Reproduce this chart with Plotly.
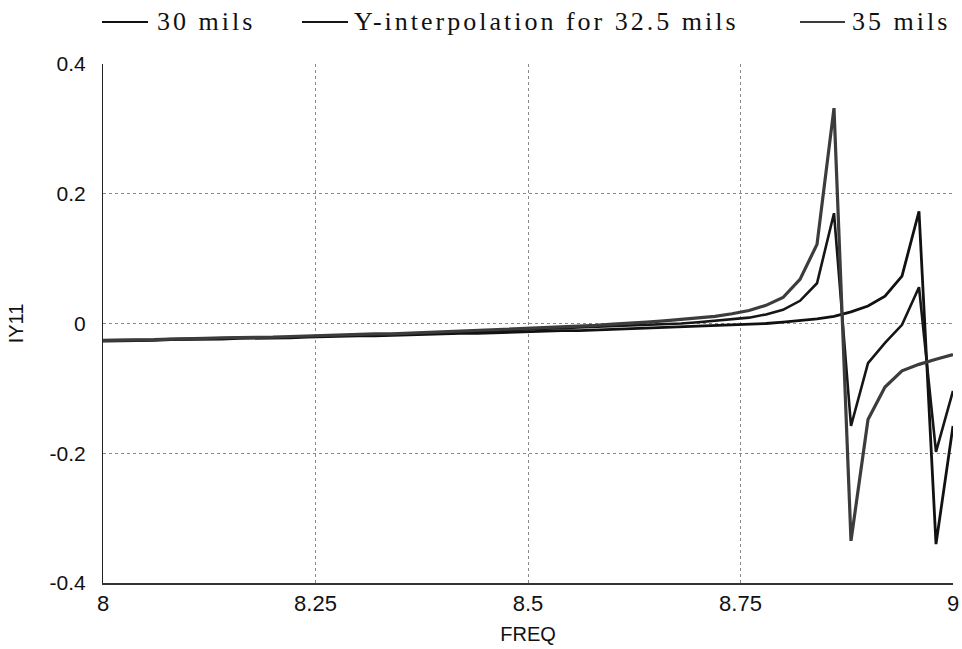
import plotly.graph_objects as go

# Frequency sweep (GHz), 0.02 GHz step
freq = [round(8.0 + 0.02 * i, 2) for i in range(51)]

iy11_30 = [
    -0.027, -0.027, -0.026, -0.026, -0.025, -0.025, -0.024, -0.024, -0.023, -0.023,
    -0.022, -0.022, -0.021, -0.020, -0.020, -0.019, -0.019, -0.018, -0.017, -0.017,
    -0.016, -0.015, -0.015, -0.014, -0.013, -0.013, -0.012, -0.011, -0.011, -0.010,
    -0.009, -0.008, -0.008, -0.007, -0.006, -0.005, -0.004, -0.003, -0.002, 0.000,
    0.002, 0.004, 0.007, 0.011, 0.018, 0.027, 0.042, 0.073, 0.173, -0.340,
    -0.158,
]

iy11_interp = [
    -0.026, -0.026, -0.025, -0.025, -0.024, -0.024, -0.023, -0.023, -0.022, -0.022,
    -0.021, -0.021, -0.020, -0.019, -0.019, -0.018, -0.017, -0.017, -0.016, -0.015,
    -0.014, -0.013, -0.013, -0.012, -0.011, -0.010, -0.009, -0.008, -0.007, -0.006,
    -0.005, -0.004, -0.003, -0.001, 0.000, 0.002, 0.004, 0.006, 0.009, 0.014,
    0.021, 0.035, 0.062, 0.170, -0.158, -0.061, -0.030, -0.002, 0.056, -0.198,
    -0.104,
]

iy11_35 = [
    -0.026, -0.026, -0.025, -0.025, -0.024, -0.024, -0.023, -0.022, -0.022, -0.021,
    -0.021, -0.020, -0.019, -0.019, -0.018, -0.017, -0.016, -0.016, -0.015, -0.014,
    -0.013, -0.012, -0.011, -0.010, -0.009, -0.008, -0.007, -0.006, -0.004, -0.003,
    -0.001, 0.000, 0.002, 0.004, 0.006, 0.008, 0.011, 0.015, 0.020, 0.028,
    0.040, 0.068, 0.122, 0.332, -0.335, -0.148, -0.098, -0.073, -0.063, -0.055,
    -0.048,
]

series_names = ["30 mils", "Y-interpolation for 32.5 mils", "35 mils"]
series_data = [iy11_30, iy11_interp, iy11_35]
series_colors = ["#111111", "#161616", "#3c3c3c"]
series_widths = [2.8, 2.6, 3.2]

x_ticks = [8, 8.25, 8.5, 8.75, 9]
x_ticktext = ["8", "8.25", "8.5", "8.75", "9"]
y_ticks = [-0.4, -0.2, 0, 0.2, 0.4]
y_ticktext = ["-0.4", "-0.2", "0", "0.2", "0.4"]

W, H = 962, 649
M_L, M_R, M_T, M_B = 103, 9, 64, 66
plot_w = W - M_L - M_R
plot_h = H - M_T - M_B


def px_to_paper_x(px):
    return (px - M_L) / plot_w


def px_to_paper_y(py):
    return (H - M_B - py) / plot_h


fig = go.Figure()
for name, ys, col, lw in zip(series_names, series_data, series_colors, series_widths):
    fig.add_trace(go.Scatter(
        x=freq, y=ys, mode="lines", name=name, showlegend=False,
        line=dict(color=col, width=lw),
    ))

# Hand-placed legend row above the plot: short line sample + serif label
legend_line_x = [(102, 148), (302, 348), (800, 845)]
legend_text_x = [155, 352, 850]
legend_y = 22
shapes = []
annotations = []
for (x0, x1), tx, name, col, lw in zip(legend_line_x, legend_text_x,
                                        series_names, series_colors, series_widths):
    shapes.append(dict(
        type="line", xref="paper", yref="paper",
        x0=px_to_paper_x(x0), x1=px_to_paper_x(x1),
        y0=px_to_paper_y(legend_y), y1=px_to_paper_y(legend_y),
        line=dict(color=col, width=2.2),
    ))
    annotations.append(dict(
        xref="paper", yref="paper", x=px_to_paper_x(tx), y=px_to_paper_y(legend_y),
        xanchor="left", yanchor="middle", showarrow=False,
        text='<span style="letter-spacing:3px">' + name + "</span>",
        font=dict(family="Liberation Serif, Times New Roman, serif", size=26, color="#111111"),
    ))

x_tick_font = dict(family="Liberation Sans, Arial, sans-serif", size=22, color="#111111")
y_tick_font = dict(family="Liberation Sans, Arial, sans-serif", size=21, color="#111111")
title_font = dict(family="Liberation Sans, Arial, sans-serif", size=20, color="#111111")

fig.update_layout(
    width=W, height=H,
    margin=dict(l=M_L, r=M_R, t=M_T, b=M_B, pad=0, autoexpand=False),
    paper_bgcolor="white", plot_bgcolor="white",
    shapes=shapes, annotations=annotations,
    xaxis=dict(
        range=[8, 9], tickvals=x_ticks, ticktext=x_ticktext, automargin=False,
        showgrid=True, gridcolor="#8a8a8a", griddash="dot", gridwidth=1,
        showline=True, linecolor="#333333", linewidth=1.5,
        zeroline=False, ticks="", tickfont=x_tick_font,
        title=dict(text="FREQ", font=title_font, standoff=12),
    ),
    yaxis=dict(
        range=[-0.4, 0.4], tickvals=y_ticks, ticktext=y_ticktext, automargin=False,
        showgrid=True, gridcolor="#8a8a8a", griddash="dot", gridwidth=1,
        showline=True, linecolor="#222222", linewidth=1.2,
        zeroline=False, ticks="", tickfont=y_tick_font, ticklabelstandoff=12,
        title=dict(text="IY11", font=title_font, standoff=20),
    ),
)

fig.write_html("out.html")
